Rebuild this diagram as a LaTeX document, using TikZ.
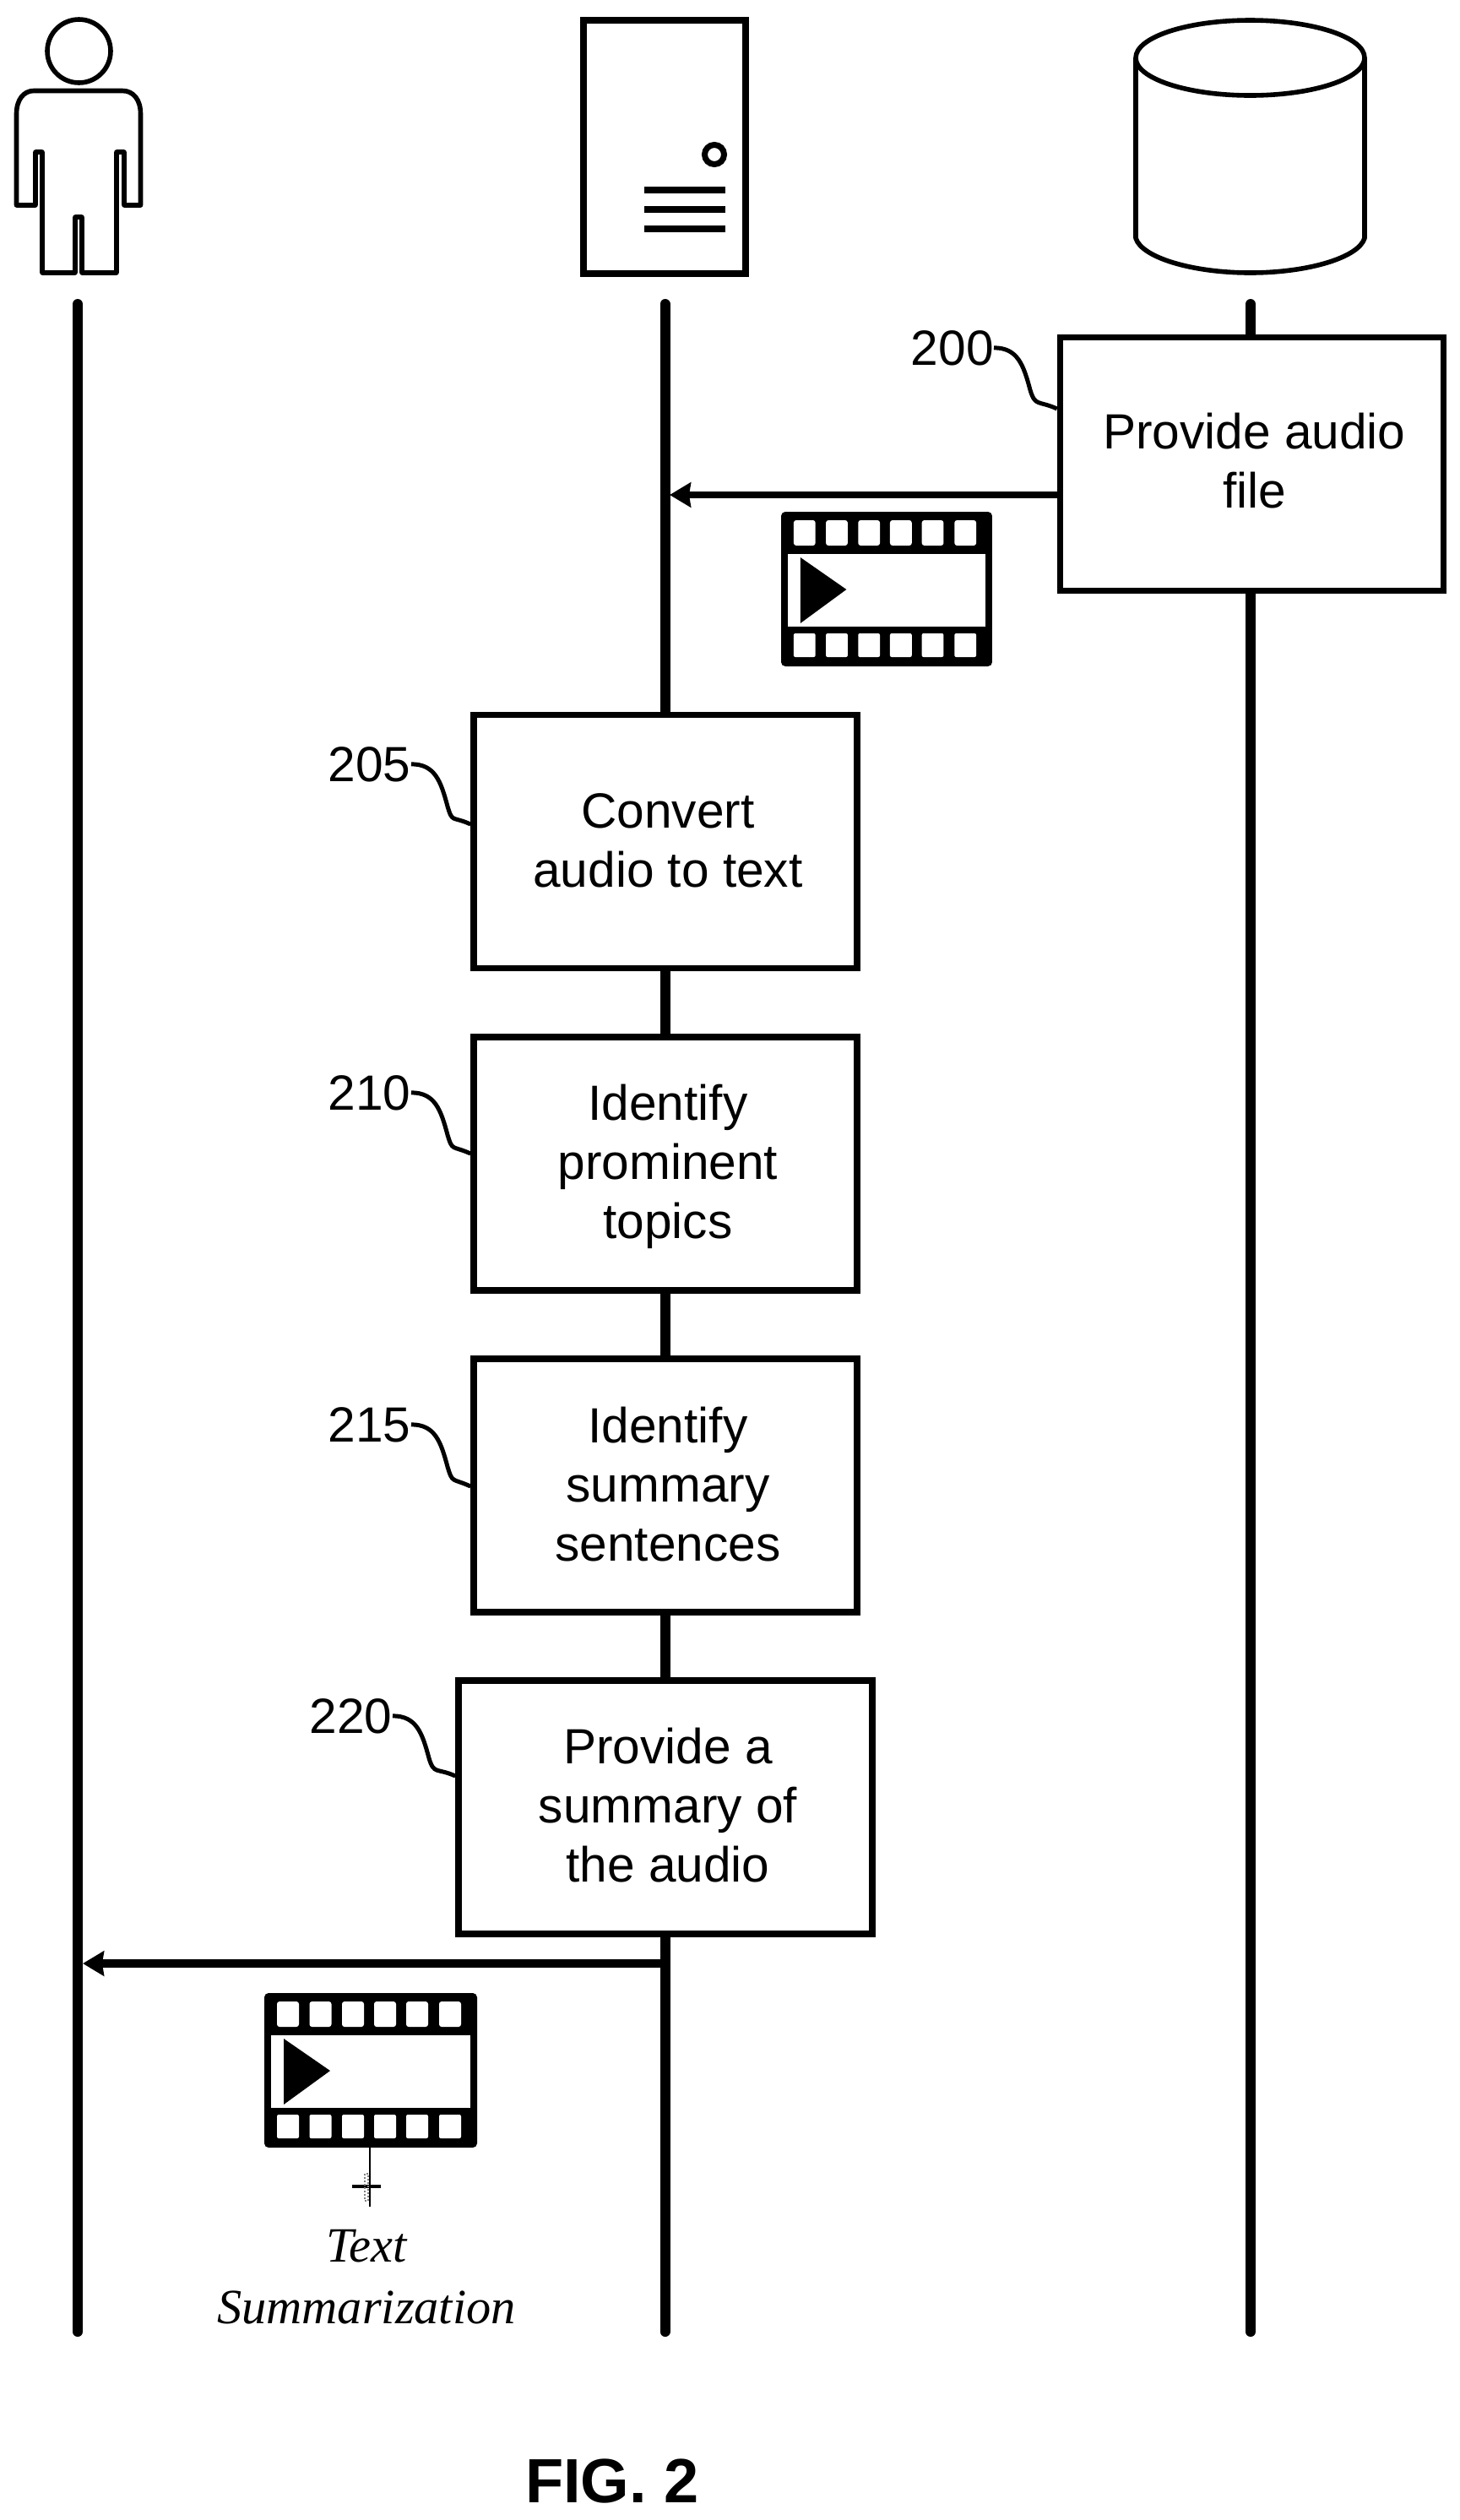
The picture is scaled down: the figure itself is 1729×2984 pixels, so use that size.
\documentclass[tikz,border=0pt]{standalone}
\usepackage{fontspec}
\setmainfont{Liberation Sans}
\newfontfamily\serifit{Liberation Serif}
\usetikzlibrary{arrows.meta}
\tikzset{
  x=0.5pt,y=-0.5pt,
  icon/.style={line width=2.8pt,line join=round},
  life/.style={line width=6pt,line cap=round},
  msg/.style={line width=4pt,-{Stealth[length=12.5pt,width=14.5pt,inset=1pt]}},
  stepbox/.style={draw,line width=3.75pt,fill=white,minimum height=150pt,align=center,inner sep=0pt,
    font=\fontsize{29.3}{35}\selectfont},
  narrowbox/.style={stepbox,minimum width=227pt},
  widebox/.style={stepbox,minimum width=245pt},
  reflabel/.style={inner sep=0pt,anchor=base east,font=\fontsize{29.3}{35}\selectfont},
  leader/.style={line width=2.5pt},
  captionit/.style={inner sep=0pt,font=\fontsize{29.2}{35}\selectfont\serifit\itshape},
}
% #1 = downward text offset (in pt of extra top height), #2 = lines
\newcommand{\boxlines}[2]{\begin{tabular}{@{\hspace{3pt}}c@{}}\rule{0pt}{\dimexpr24.5pt+#1pt\relax}#2\end{tabular}}
% #1,#2 origin, #3 horizontal scale
\newcommand{\filmstrip}[3]{%
  \begin{scope}[shift={(#1,#2)},xscale=#3]
    \fill[black,rounded corners=2.5pt] (0,0) rectangle (252,183);
    \fill[white] (8,50) rectangle (244,136);
    \foreach \hx in {15,53.5,92,130,168,207}{
      \fill[white,rounded corners=1.5pt] (\hx,10) rectangle (\hx+26,40);
      \fill[white,rounded corners=1pt] (\hx,144) rectangle (\hx+26,172);
    }
    \fill[black] (23,54) -- (78,92) -- (23,132) -- cycle;
  \end{scope}}
% leader: label east end, S-curve, box edge at a given y
\newcommand{\refline}[3]{%
  \draw[leader] (#1.east) .. controls +(28,0) and +(-8,-30) .. +(43,50)
     .. controls +(6,20) and +(-22,-10) .. (#2.west |- 0,#3);}
\begin{document}
\begin{tikzpicture}
\useasboundingbox[fill=white] (0,0) rectangle (1729,2984);

% lifelines
\coordinate (userTop) at (92,360);
\coordinate (userEnd) at (92,2761);
\coordinate (srvTop) at (787.5,360);
\coordinate (srvEnd) at (787.5,2761);
\coordinate (dbTop) at (1481,360);
\coordinate (dbEnd) at (1481,2761);
\draw[life] (userTop) -- (userEnd);
\draw[life] (srvTop) -- (srvEnd);
\draw[life] (dbTop) -- (dbEnd);

% user icon
\draw[icon] (93.5,60.5) circle [radius=37.5];
\draw[icon] (42,180) -- (42,243) -- (19.5,243) -- (19.5,135)
  .. controls (19.5,118) and (28,107.5) .. (40,107.5) -- (145,107.5)
  .. controls (158,107.5) and (166.5,118) .. (166.5,135) -- (166.5,243) -- (147,243)
  -- (147,180) -- (138,180) -- (138,323) -- (97,323) -- (97,257) -- (89,257) -- (89,323)
  -- (50,323) -- (50,180) -- cycle;

% server icon
\draw[line width=4pt] (691,24) rectangle (883,324);
\draw[line width=3.5pt] (846,183) circle [radius=11.5];
\foreach \ly in {225,248,271}
  \draw[line width=4pt] (763,\ly) -- (859,\ly);

% database icon
\draw[icon] (1345,68.5) .. controls (1345,44) and (1406,24) .. (1480.5,24)
  .. controls (1555,24) and (1616,44) .. (1616,68.5)
  .. controls (1616,93) and (1555,113) .. (1480.5,113)
  .. controls (1406,113) and (1345,93) .. (1345,68.5) -- (1345,282)
  .. controls (1352,305) and (1412,323) .. (1480.5,323)
  .. controls (1549,323) and (1609,305) .. (1616,282) -- (1616,68.5);

% boxes
\node[narrowbox] (b200) at (1482.5,549.5) {\boxlines{2.5}{Provide audio\\file}};
\node[narrowbox] (b205) at (788,996.5) {\boxlines{5}{Convert\\audio to text}};
\node[narrowbox] (b210) at (788,1378) {\boxlines{4}{Identify\\prominent\\topics}};
\node[narrowbox] (b215) at (788,1759) {\boxlines{5}{Identify\\summary\\sentences}};
\node[widebox] (b220) at (788,2140) {\boxlines{4}{Provide a\\summary of\\the audio}};

% reference labels
\node[reflabel] (l200) at (1177,432) {200};
\node[reflabel] (l205) at (487,925) {205};
\node[reflabel] (l210) at (487,1314) {210};
\node[reflabel] (l215) at (487,1707) {215};
\node[reflabel] (l220) at (465,2052) {220};
\refline{l200}{b200}{484}
\refline{l205}{b205}{976}
\refline{l210}{b210}{1366}
\refline{l215}{b215}{1760}
\refline{l220}{b220}{2103}

% messages
\coordinate (m1end) at (793,586);
\coordinate (m2start) at (787.5,2325);
\coordinate (m2end) at (98,2325);
\draw[msg] (b200.west |- m1end) -- (m1end);
\draw[msg,line width=5pt] (m2start) -- (m2end);

% media icons
\filmstrip{925}{606}{0.992}
\filmstrip{313}{2360}{1}

% small mark under the second icon
\coordinate (markTop) at (438,2543);
\coordinate (markEnd) at (438,2613);
\coordinate (markL) at (417,2589);
\coordinate (markR) at (451,2589);
\draw[line width=1pt] (markTop) -- (markEnd);
\draw[line width=2pt] (markL) -- (markR);
\draw[line width=1pt,densely dotted,gray] (431.5,2574) rectangle (435.5,2606);

% caption
\node[captionit,anchor=base] (cap1) at (434,2678) {Text};
\node[captionit,anchor=base] (cap2) at (434,2751) {Summarization};

% figure label
\node[inner sep=0pt,anchor=base,font=\fontsize{37}{45}\selectfont\bfseries] (fig) at (725,2963) {FIG. 2};
\end{tikzpicture}
\end{document}
